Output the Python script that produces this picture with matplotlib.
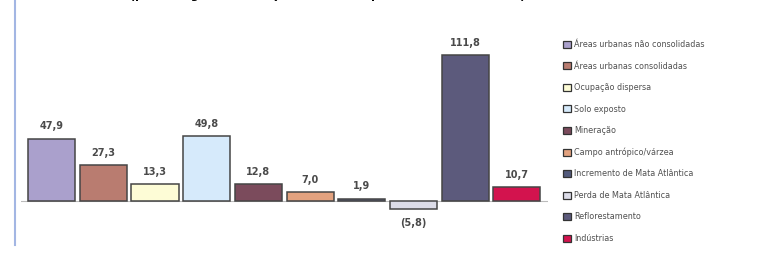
import matplotlib.pyplot as plt
from matplotlib.lines import Line2D
from matplotlib.patches import Patch

categories = [
    "Áreas urbanas não consolidadas",
    "Áreas urbanas consolidadas",
    "Ocupação dispersa",
    "Solo exposto",
    "Mineração",
    "Campo antrópico/várzea",
    "Incremento de Mata Atlântica",
    "Perda de Mata Atlântica",
    "Reflorestamento",
    "Indústrias",
]
values = [47.9, 27.3, 13.3, 49.8, 12.8, 7.0, 1.9, -5.8, 111.8, 10.7]
labels = ["47,9", "27,3", "13,3", "49,8", "12,8", "7,0", "1,9", "(5,8)", "111,8", "10,7"]
colors = ["#aaa0cc", "#b97c70", "#fdfcd6", "#d6eafb", "#7b4b5c",
          "#e3a27f", "#525a7c", "#dcdce8", "#5c5a7c", "#d3134e"]

fig = plt.figure(figsize=(7.62, 2.54), dpi=100)
ax = fig.add_axes([0.027, 0.054, 0.692, 0.823])

x = list(range(len(values)))
bars = ax.bar(x, values, width=0.91, color=colors, edgecolor="#454545", linewidth=1.1)

for xi, v, lab in zip(x, values, labels):
    if v >= 0:
        ax.text(xi, v + 5.5, lab, ha="center", va="bottom", fontsize=7,
                fontweight="semibold", color="#4a4a4a")
    else:
        ax.text(xi, v - 7, lab, ha="center", va="top", fontsize=7,
                fontweight="semibold", color="#4a4a4a")

ax.axhline(0, color="#bbbbbb", linewidth=0.8, zorder=0)
ax.set_xlim(-0.6, 9.6)
ax.set_ylim(-30, 130)
ax.axis("off")

# legend on the right
handles = [Patch(facecolor=c, edgecolor="#333333", linewidth=0.9) for c in colors]
fig.legend(handles, categories, loc="upper left", bbox_to_anchor=(0.735, 0.855),
           frameon=False, fontsize=5.8, labelcolor="#505050",
           handlelength=0.95, handleheight=0.95, handletextpad=0.35,
           labelspacing=1.55, borderaxespad=0)

# blue border line on the left
fig.add_artist(Line2D([0.02, 0.02], [0.035, 1.0], color="#a3b6e3", linewidth=1.5))

# title, cut off at the top edge as in the source
fig.text(0.43, 1.002, "(percentagem da variação da área ocupada entre 1990 e 2000)",
         ha="center", va="baseline", fontsize=8, fontweight="bold")

fig.savefig("out.png", dpi=100)
